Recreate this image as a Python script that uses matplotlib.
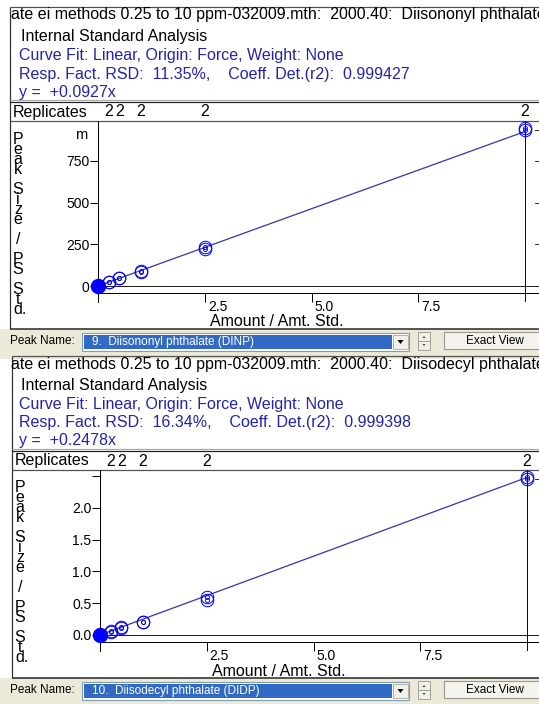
import matplotlib
matplotlib.use('Agg')
import matplotlib.pyplot as plt
import matplotlib.transforms as mtransforms
from matplotlib.patches import Rectangle, Polygon

plt.rcParams['font.family'] = ['Liberation Sans', 'DejaVu Sans']

W, H = 539, 704

# ---------------- data ----------------
amounts = [0.25, 0.5, 1.0, 2.5, 10.0]
replicate_counts = ['2', '2', '2', '2', '2']

dinp_rep1 = [0.025, 0.045, 0.087, 0.222, 0.936]
dinp_rep2 = [0.021, 0.050, 0.081, 0.234, 0.948]
dinp_slope = 0.0927
dinp_yticks = [0, 250, 500, 750]
dinp_yticklabels = ['0', '250', '500', '750']

didp_rep1 = [0.060, 0.108, 0.200, 0.555, 2.445]
didp_rep2 = [0.048, 0.122, 0.212, 0.595, 2.485]
didp_slope = 0.2478
didp_yticks = [0.0, 0.5, 1.0, 1.5, 2.0, 2.5]
didp_yticklabels = ['0.0', '0.5', '1.0', '1.5', '2.0', '']

xticks = [2.5, 5.0, 7.5]
xticklabels = ['2.5', '5.0', '7.5']

headers = ['ate ei methods 0.25 to 10 ppm-032009.mth:  2000.40:  Diisononyl phthalate',
           'ate ei methods 0.25 to 10 ppm-032009.mth:  2000.40:  Diisodecyl phthalate']
fit_text = 'Curve Fit: Linear, Origin: Force, Weight: None'
rsd_texts = ['Resp. Fact. RSD:  11.35%,    Coeff. Det.(r2):  0.999427',
             'Resp. Fact. RSD:  16.34%,    Coeff. Det.(r2):  0.999398']
eq_texts = ['y =  +0.0927x', 'y =  +0.2478x']
peak_names = ['9.  Diisononyl phthalate (DINP)', '10.  Diisodecyl phthalate (DIDP)']
ylabel_tokens = ['P', 'e', 'a', 'k', ' ', 'S', 'i', 'z', 'e', ' ', '/', ' ',
                 'P', 'S', ' ', 'S', 't', 'd.']

BLUE_TXT = '#2424a8'
MARK = '#0000ff'
FITC = '#3c3ca6'
GRAY = '#ece9d8'
PT = 72.0 / 100.0  # points per pixel

fig = plt.figure(figsize=(W / 100, H / 100), dpi=100)
fig.patch.set_facecolor('white')
bg = fig.add_axes([0, 0, 1, 1], zorder=0)
bg.set_xlim(0, W)
bg.set_ylim(H, 0)
bg.axis('off')


def hline(y, x0, x1, c='#303030', lw=1.0):
    bg.plot([x0, x1], [y, y], color=c, lw=lw * PT, solid_capstyle='butt')


def vline(x, y0, y1, c='#303030', lw=1.0):
    bg.plot([x, x], [y0, y1], color=c, lw=lw * PT, solid_capstyle='butt')


def panel(idx, y0, dx, reps, slope, scale, ppu, yticks, yticklabels, unit):
    # peak name bar background
    bg.add_patch(Rectangle((0, 329 + y0), W, 30, facecolor=GRAY, edgecolor='none'))
    # box
    L = 10 + dx
    hline(7 + y0, L, W, '#505050', 1.2)
    vline(L, 7 + y0, 329 + y0, '#303030', 1.2)
    hline(100 + y0, L, W, '#a8a8a8', 1.2)
    hline(102 + y0, L, W, '#202020', 1.2)
    hline(121 + y0, L, W, '#505050', 1.2)
    hline(329 + y0, L, W, '#303030', 1.6)

    fs = 11.5
    bg.text(11, 15 + y0, headers[idx], fontsize=fs, va='center', ha='left', color='black')
    bg.text(21, 36.5 + y0, 'Internal Standard Analysis', fontsize=fs, va='center', color='black')
    bg.text(19, 55.5 + y0, fit_text, fontsize=fs, va='center', color=BLUE_TXT)
    bg.text(19, 74 + y0, rsd_texts[idx], fontsize=fs, va='center', color=BLUE_TXT)
    bg.text(19, 92 + y0, eq_texts[idx], fontsize=fs, va='center', color=BLUE_TXT)
    bg.text(13 + dx, 112 + y0, 'Replicates', fontsize=fs, va='center', color='black')

    # vertical stacked y label
    for i, tok in enumerate(ylabel_tokens):
        yy = 139 + 10 * i + y0
        if tok == 'd.':
            bg.text(13.5 + dx, yy, tok, fontsize=11.5, va='center', ha='left')
        else:
            bg.text(18 + dx, yy, tok, fontsize=11.5, va='center', ha='center')

    # plot axes
    left, right, top, bottom, zero = 98 + dx, 541, 121 + y0, 302 + y0, 286 + y0
    ax = fig.add_axes([left / W, 1 - bottom / H, (right - left) / W, (bottom - top) / H], zorder=2)
    ax.set_facecolor('none')
    ax.set_xlim(0, (right - left) / 42.7)
    ax.set_ylim(-(bottom - zero) / ppu, (zero - top) / ppu)
    for s in ['top', 'right']:
        ax.spines[s].set_visible(False)
    ax.spines['left'].set_linewidth(PT)
    ax.spines['bottom'].set_position(('axes', (bottom - 293 - y0) / (bottom - top)))
    ax.spines['bottom'].set_linewidth(PT)
    ax.set_yticks(yticks)
    ax.set_yticklabels(yticklabels)
    ax.tick_params(axis='y', direction='out', length=8 * PT, width=PT, pad=0.3,
                   labelsize=10)
    ax.set_xticks(xticks)
    ax.tick_params(axis='x', direction='out', length=9 * PT, width=PT, labelbottom=False)
    ax.axhline(0, color='#202020', lw=PT)

    tr = mtransforms.blended_transform_factory(ax.transData, bg.transData)
    tr_off = mtransforms.offset_copy(tr, fig=fig, x=3, y=0, units='dots')
    for xv, lab in zip(xticks, xticklabels):
        ax.text(xv, 307 + y0, lab, transform=tr_off, fontsize=10, ha='left', va='center')
    for xv, lab in zip(amounts, replicate_counts):
        ax.text(xv, 112 + y0, lab, transform=tr, fontsize=fs, ha='center', va='center')
    bg.text(277 + dx, 322 + y0, 'Amount / Amt. Std.', fontsize=fs, ha='center', va='center')
    if unit:
        bg.text(81, 135 + y0, unit, fontsize=10.5, ha='center', va='center')

    # cursor line at last standard
    ax.axvline(max(amounts), color='#000080', lw=PT)
    # fit line
    xmax = max(amounts)
    ax.plot([0, xmax], [0, slope * xmax * scale], color=FITC, lw=1.3 * PT, zorder=3)
    # replicate markers
    for rep in reps:
        ys = [v * scale for v in rep]
        ax.plot(amounts, ys, 'o', ms=12.5 * PT, mfc='none', mec=MARK, mew=1.0 * PT, zorder=4,
                clip_on=False)
        ax.plot(amounts, ys, 'o', ms=4 * PT, mfc='none', mec=MARK, mew=0.9 * PT, zorder=4,
                clip_on=False)
    ax.plot([0], [0], 'o', ms=14 * PT, color=MARK, zorder=5, clip_on=False)
    # small dashes at right edge (next axis)
    ymax_pt = max(reps[0]) * scale
    rt = mtransforms.blended_transform_factory(bg.transData, ax.transData)
    for yv in [ymax_pt] + (list(yticks[1:4]) if unit else []):
        ax.plot([535, 538], [yv, yv], transform=rt, color='#303030', lw=PT, clip_on=False)

    # ---- peak name controls ----
    by = 341 + y0
    bg.text(10, by, 'Peak Name:', fontsize=8.5, va='center', ha='left')
    bg.add_patch(Rectangle((82, 333 + y0), 327, 18, facecolor='white', edgecolor='#7f9db9', lw=0.8))
    bg.add_patch(Rectangle((84, 335 + y0), 308, 14, facecolor='#316ac5', edgecolor='none'))
    bg.text(92, by + 1, peak_names[idx], fontsize=8.5, va='center', ha='left', color='white')
    bg.add_patch(Rectangle((393, 335 + y0), 15, 14, facecolor='#f0efe8', edgecolor='#b0b0a8', lw=0.7))
    bg.add_patch(Polygon([[397.5, 340 + y0], [403.5, 340 + y0], [400.5, 344 + y0]],
                         closed=True, facecolor='black', edgecolor='none'))
    bg.add_patch(Rectangle((418, 332 + y0), 12, 9, facecolor='#f0efe8', edgecolor='#a0a098', lw=0.7))
    bg.add_patch(Rectangle((418, 341 + y0), 12, 9, facecolor='#f0efe8', edgecolor='#a0a098', lw=0.7))
    bg.add_patch(Polygon([[422.5, 338 + y0], [425.5, 338 + y0], [424, 336 + y0]],
                         closed=True, facecolor='#404040', edgecolor='none'))
    bg.add_patch(Polygon([[422.5, 344 + y0], [425.5, 344 + y0], [424, 346 + y0]],
                         closed=True, facecolor='#404040', edgecolor='none'))
    bg.add_patch(Rectangle((444, 332 + y0), 100, 17, facecolor='#f4f3ee', edgecolor='#9a9890', lw=0.8))
    bg.text(495, by, 'Exact View', fontsize=8.5, va='center', ha='center')
    return ax


panel(0, 0, 0, [dinp_rep1, dinp_rep2], dinp_slope, 1000.0, 0.16667,
      dinp_yticks, dinp_yticklabels, 'm')
panel(1, 349, 2, [didp_rep1, didp_rep2], didp_slope, 1.0, 63.6,
      didp_yticks, didp_yticklabels, '')

fig.savefig('out.png', dpi=100, facecolor='white')
